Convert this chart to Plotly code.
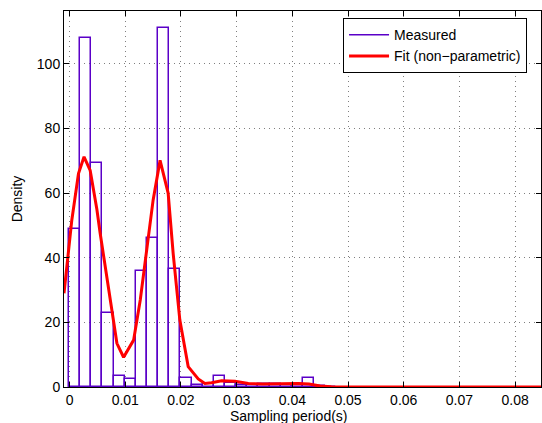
import plotly.graph_objects as go

# Histogram (measured) – bin centres (s) and densities
bin_centers = [0.0009, 0.0029, 0.0049, 0.0069, 0.0089, 0.0109, 0.0129, 0.0149,
               0.0169, 0.0189, 0.0209, 0.0229, 0.0249, 0.0269, 0.0289, 0.0309,
               0.0329, 0.0349, 0.0369, 0.0389, 0.0409, 0.0429, 0.0449, 0.0469]
density = [49, 108, 69.3, 22.8, 3.4, 2.4, 36, 46,
           111, 36.5, 2.7, 0.6, 0.8, 3.4, 1.1, 0.6,
           0.5, 1.0, 0.9, 0.6, 0.9, 2.7, 0.4, 0.1]
bin_width = 0.002

# Non-parametric fit
fit_x = [-0.001, 0.0004, 0.0016, 0.0026, 0.0037, 0.0049, 0.0055, 0.0073, 0.0085,
         0.0097, 0.0115, 0.0127, 0.0139, 0.0150, 0.01625, 0.0177, 0.0186, 0.0198,
         0.0213, 0.0231, 0.0243, 0.0255, 0.0273, 0.0297, 0.0321, 0.0347, 0.038,
         0.041, 0.043, 0.045, 0.047, 0.050, 0.060, 0.070, 0.080, 0.0847]
fit_y = [29, 51.6, 66, 71.2, 67, 55, 47.5, 27, 13.5,
         9.2, 14.5, 27, 42.3, 57.8, 70.1, 60, 41.3, 20.7,
         6.3, 2.5, 1.1, 1.3, 1.9, 1.8, 1.1, 0.9, 1.0,
         1.1, 0.9, 0.3, 0.05, 0, 0, 0, 0, 0]

x_ticks = [0, 0.01, 0.02, 0.03, 0.04, 0.05, 0.06, 0.07, 0.08]
x_tick_labels = ["0", "0.01", "0.02", "0.03", "0.04", "0.05", "0.06", "0.07", "0.08"]
y_ticks = [0, 20, 40, 60, 80, 100]

PURPLE = "#5A00C8"
FONT = "Liberation Sans, Arial, sans-serif"

fig = go.Figure()
fig.add_trace(go.Bar(
    x=bin_centers, y=density, width=bin_width,
    marker=dict(color="rgba(0,0,0,0)", line=dict(color=PURPLE, width=1.5)),
    showlegend=False, name="Measured"))
fig.add_trace(go.Scatter(x=[None], y=[None], mode="lines",
                         line=dict(color=PURPLE, width=1.5), name="Measured"))
fig.add_trace(go.Scatter(x=fit_x, y=fit_y, mode="lines",
                         line=dict(color="red", width=3), name="Fit (non\u2212parametric)"))

axis_common = dict(
    showline=True, linecolor="black", linewidth=1, mirror="ticks",
    ticks="inside", ticklen=5, tickcolor="black",
    showgrid=True, gridcolor="rgba(0,0,0,0.5)", griddash="1px,4px", gridwidth=1,
    zeroline=False, tickfont=dict(family=FONT, size=14, color="black"),
)

fig.update_xaxes(range=[-0.001, 0.08465], tickvals=x_ticks, ticktext=x_tick_labels,
                 **axis_common)
fig.update_yaxes(range=[0, 116.3], tickvals=y_ticks,
                 title=dict(text="Density", font=dict(family=FONT, size=14, color="black"),
                            standoff=10),
                 **axis_common)

fig.add_annotation(text="Sampling period(s)", xref="paper", yref="paper",
                   x=0.472, y=-0.078, xanchor="center", yanchor="middle",
                   showarrow=False, font=dict(family=FONT, size=14, color="black"))

fig.update_layout(
    width=542, height=423,
    margin=dict(l=64, r=1, t=11, b=36),
    plot_bgcolor="white", paper_bgcolor="white",
    bargap=0,
    legend=dict(x=0.585, y=0.981, xanchor="left", yanchor="top",
                bgcolor="white", bordercolor="black", borderwidth=1,
                font=dict(family=FONT, size=14, color="black"),
                tracegroupgap=0, itemwidth=40),
    font=dict(family=FONT, size=14, color="black"),
)

fig.write_html("out.html")
